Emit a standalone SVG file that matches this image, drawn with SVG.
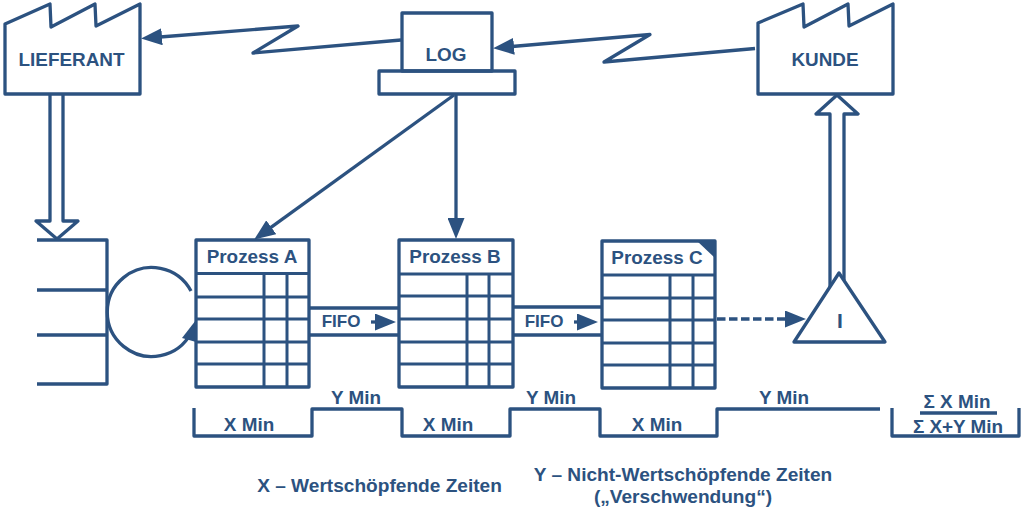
<svg xmlns="http://www.w3.org/2000/svg" width="1024" height="511" viewBox="0 0 1024 511">
<style>
.s{fill:none;stroke:#2c5280;stroke-width:3.3;stroke-linejoin:round;stroke-linecap:butt}
.b{fill:#fff;stroke:#2c5280;stroke-width:3.3;stroke-linejoin:round}
.g{fill:none;stroke:#2c5280;stroke-width:3}
.f{fill:#2c5280}
text{font-family:"Liberation Sans",Arial,sans-serif;font-weight:700;font-size:18.9px;fill:#2c5280;text-anchor:middle}
.a{marker-end:url(#head)}
.d{stroke-dasharray:8.5 3.5}
</style>
<defs>
<marker id="head" markerUnits="userSpaceOnUse" markerWidth="21" markerHeight="17" viewBox="0 0 21 17" refX="2" refY="8.500" orient="auto"><path d="M0,0L21,8.500L0,17Z" fill="#2c5280"/></marker>
</defs>
<rect width="1024" height="511" fill="#fff"/>
<g id="connectors">
<path class="s a" d="M401,40L253,53L298,26L160,37"/>
<path class="s a" d="M755,48.500L604,62L650,34.500L512,46.500"/>
<path class="s a" d="M454,95L269.600,228.400"/>
<path class="s a" d="M456,95V220"/>
<path class="s" d="M50,95V221H36L57,239L78,221H63V95"/>
<path class="s" d="M830,287V114H816L837,95L858,114H844V280"/>
<path class="s" d="M309,308H399M309,335H399M513,307H602M513,335H602"/>
<path class="s a" d="M371,322H377"/>
<path class="s a" d="M574,322H579"/>
<path class="s d a" d="M717,319H787"/>
<path class="s" d="M191,291A44.500,44.500 0 1 0 191,333"/>
<path class="f" d="M196,320L182,338L196,342Z"/>
</g>
<g id="lieferant"><path class="s" d="M5,24L50,4L51,27L95,4L96,26L140,4V94H5Z"/><text x="71.500" y="66">LIEFERANT</text></g>
<g id="kunde"><path class="s" d="M758,23L803,4L804,27L848,4L849,26L893,4V94H758Z"/><text x="825" y="66">KUNDE</text></g>
<g id="log"><rect class="s" x="402" y="13" width="90" height="58"/><rect class="s" x="379" y="71" width="136" height="23"/><text x="446" y="61">LOG</text></g>
<g id="inventory"><path class="s" d="M37,240H107V384H37M37,290H107M37,335H107"/></g>
<g id="prozess-a"><rect class="s" x="196" y="240" width="113" height="147"/><path class="g" d="M196,273.500H309M196,297H309M196,319H309M196,342H309M196,364H309M264,273.500V387M287,273.500V387"/><text x="252" y="263">Prozess A</text></g>
<g id="prozess-b"><rect class="s" x="399" y="240" width="114" height="147"/><path class="g" d="M399,274H513M399,296H513M399,319H513M399,342H513M399,364H513M467,274V387M489,274V387"/><text x="455" y="263">Prozess B</text></g>
<g id="prozess-c"><rect class="s" x="602" y="241" width="113" height="147"/><path class="g" d="M602,275H715M602,298H715M602,320H715M602,343H715M602,365H715M670,275V388M693,275V388"/><path class="f" d="M697,241H715V258Z"/><text x="657" y="264">Prozess C</text></g>
<g id="fifo-1"><text x="341" y="327" style="font-size:17px">FIFO</text></g>
<g id="fifo-2"><text x="544" y="327" style="font-size:17px">FIFO</text></g>
<g id="inventory-triangle"><path class="b" d="M839,273L885,342H794Z"/><text x="840" y="328" style="font-size:21px">I</text></g>
<g id="timeline"><path class="s" d="M194,408V436H312V409H402V436H510V409H600V436H717V409H880"/><path class="s" d="M892,408V436H1019V408M920,413H997"/>
<text x="249" y="431">X Min</text><text x="356" y="404">Y Min</text><text x="448" y="431">X Min</text><text x="551" y="404">Y Min</text><text x="657" y="431">X Min</text><text x="784" y="404">Y Min</text>
<text x="957" y="408">Σ X Min</text><text x="958" y="433">Σ X+Y Min</text></g>
<g id="legend"><text x="379.500" y="492" style="font-size:19.100px">X – Wertschöpfende Zeiten</text><text x="683" y="481" style="font-size:19.100px">Y – Nicht-Wertschöpfende Zeiten</text><text x="683" y="503" style="font-size:19.100px">(„Verschwendung“)</text></g>
</svg>
